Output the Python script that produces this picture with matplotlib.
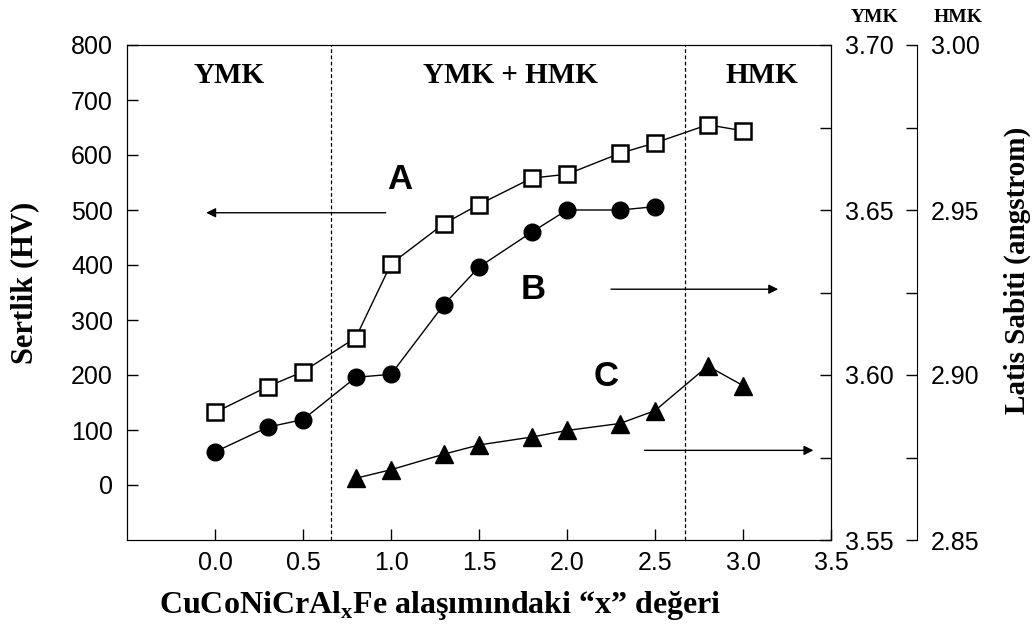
import matplotlib
matplotlib.use('Agg')
import matplotlib.pyplot as plt
from matplotlib.ticker import MultipleLocator, FormatStrFormatter

# x degerleri (Al orani)
x_A = [0.0, 0.3, 0.5, 0.8, 1.0, 1.3, 1.5, 1.8, 2.0, 2.3, 2.5, 2.8, 3.0]
sertlik = [132, 179, 206, 268, 402, 475, 510, 558, 565, 603, 622, 655, 644]

# YMK latis sabiti (angstrom)
x_B = [0.0, 0.3, 0.5, 0.8, 1.0, 1.3, 1.5, 1.8, 2.0, 2.3, 2.5]
latis_ymk = [3.5767, 3.5842, 3.5865, 3.5993, 3.6002, 3.6213, 3.6327, 3.6433, 3.6500, 3.6500, 3.6510]

# HMK latis sabiti (angstrom)
x_C = [0.8, 1.0, 1.3, 1.5, 1.8, 2.0, 2.3, 2.5, 2.8, 3.0]
latis_hmk = [2.8687, 2.8713, 2.8760, 2.8788, 2.8812, 2.8832, 2.8853, 2.8892, 2.9027, 2.8968]

faz_sinirlari = [0.66, 2.67]

plt.rcParams['mathtext.fontset'] = 'custom'
plt.rcParams['mathtext.bf'] = 'Liberation Serif:bold'
plt.rcParams['mathtext.rm'] = 'Liberation Serif:bold'

fig = plt.figure(figsize=(10.36, 6.24), dpi=100)
ax = fig.add_axes([127/1036, 84/624, 704/1036, 495/624])

serif_b = {'family': 'Liberation Serif', 'weight': 'bold'}

ax.plot(x_A, sertlik, '-', color='k', lw=1, marker='s', ms=11, mfc='white', mec='k', mew=1.8, zorder=3)
ax.set_xlim(-0.5, 3.5)
ax.set_ylim(-100, 800)
ax.set_xticks([0.0, 0.5, 1.0, 1.5, 2.0, 2.5, 3.0, 3.5])
ax.set_yticks([0, 100, 200, 300, 400, 500, 600, 700, 800])
ax.xaxis.set_major_formatter(FormatStrFormatter('%.1f'))
ax.tick_params(direction='in', length=8, width=1, pad=8)
ax.tick_params(axis='y', pad=10)
for lab in ax.get_xticklabels() + ax.get_yticklabels():
    lab.set_fontfamily('Liberation Sans')
    lab.set_fontsize(18)

for xv in faz_sinirlari:
    ax.axvline(xv, color='k', lw=0.9, ls=(0, (3, 2)))

ax.text(0.08, 745, 'YMK', ha='center', va='center', fontsize=21, **serif_b)
ax.text(1.68, 745, 'YMK + HMK', ha='center', va='center', fontsize=21, **serif_b)
ax.text(3.11, 745, 'HMK', ha='center', va='center', fontsize=21, **serif_b)

ax.text(1.05, 555, 'A', ha='center', va='center', fontsize=25, fontweight='bold', family='Liberation Sans')
ax.text(1.81, 356, 'B', ha='center', va='center', fontsize=25, fontweight='bold', family='Liberation Sans')
ax.text(2.22, 198, 'C', ha='center', va='center', fontsize=25, fontweight='bold', family='Liberation Sans')

ok = dict(arrowstyle='-|>', lw=1, color='k', mutation_scale=14, shrinkA=0, shrinkB=0)
ax.annotate('', xy=(-0.05, 495), xytext=(0.97, 495), arrowprops=ok)
ax.annotate('', xy=(3.2, 356), xytext=(2.25, 356), arrowprops=ok)
ax.annotate('', xy=(3.4, 63), xytext=(2.44, 63), arrowprops=ok)

# sag eksen 1 (YMK)
ax2 = ax.twinx()
ax2.plot(x_B, latis_ymk, '-', color='k', lw=1, marker='o', ms=12, mfc='k', mec='k', zorder=3)
ax2.set_ylim(3.55, 3.70)
ax2.yaxis.set_major_locator(MultipleLocator(0.05))
ax2.yaxis.set_minor_locator(MultipleLocator(0.025))
ax2.yaxis.set_major_formatter(FormatStrFormatter('%.2f'))
ax2.tick_params(axis='y', which='both', direction='in', length=8, width=1, pad=10)
for lab in ax2.get_yticklabels():
    lab.set_fontfamily('Liberation Sans')
    lab.set_fontsize(18)

# sag eksen 2 (HMK), 86 px disarida
ax3 = ax.twinx()
ax3.spines['right'].set_position(('outward', 86 * 72 / 100))
for s in ['top', 'bottom', 'left']:
    ax3.spines[s].set_visible(False)
ax3.plot(x_C, latis_hmk, '-', color='k', lw=1, marker='^', ms=13, mfc='k', mec='k', zorder=3)
ax3.set_ylim(2.85, 3.00)
ax3.yaxis.set_major_locator(MultipleLocator(0.05))
ax3.yaxis.set_minor_locator(MultipleLocator(0.025))
ax3.yaxis.set_major_formatter(FormatStrFormatter('%.2f'))
ax3.tick_params(axis='y', which='both', direction='in', length=8, width=1, pad=10)
for lab in ax3.get_yticklabels():
    lab.set_fontfamily('Liberation Sans')
    lab.set_fontsize(18)

fig.text(875/1036, 1 - 18/624, 'YMK', ha='center', va='center', fontsize=14, **serif_b)
fig.text(958/1036, 1 - 18/624, 'HMK', ha='center', va='center', fontsize=14, **serif_b)

fig.text(25/1036, 1 - 283/624, 'Sertlik (HV)', rotation=90, ha='center', va='center', fontsize=22, **serif_b)
fig.text(1017/1036, 1 - 270/624, 'Latis Sabiti (angstrom)', rotation=90, ha='center', va='center', fontsize=21, **serif_b)
fig.text(440/1036, 1 - 605/624, 'CuCoNiCrAl$_{\\mathbf{x}}$Fe alaşımındaki “x” değeri',
         ha='center', va='center', fontsize=23, **serif_b)

plt.savefig('out.png', dpi=100)
plt.close()
